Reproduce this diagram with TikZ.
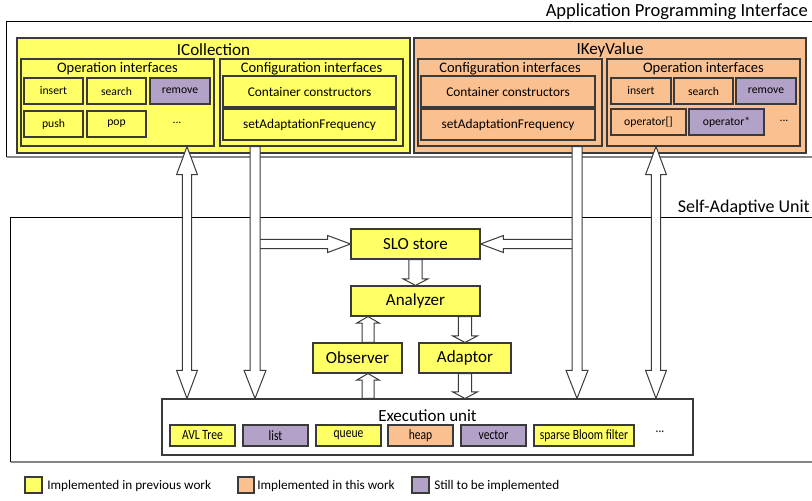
\documentclass[tikz,border=0pt]{standalone}
\usepackage{fontspec}
\setmainfont{Carlito}
\newfontfamily\narrowfont[FakeStretch=0.82]{Carlito}
\usetikzlibrary{calc}

\definecolor{prevyellow}{HTML}{FFFF66}
\definecolor{thisorange}{HTML}{FAC090}
\definecolor{todopurple}{HTML}{B3A2C7}
\definecolor{edgegray}{HTML}{3A3A3A}
\definecolor{shadowgray}{HTML}{858585}

\newcommand\fs[1]{\fontsize{#1}{#1}\selectfont}

% rectangle node given by its corners: [style]{name}{x1}{y1}{x2}{y2}{text}
\newcommand\rectnode[7][]{%
  \node[#1, minimum width={(#5-#3)*0.75pt}, minimum height={(#6-#4)*0.75pt}]
    (#2) at ({(#3+#5)/2},{(#4+#6)/2}) {#7};}

% hollow block arrow from #4 to #5 (tip at #5):
% #1 half shaft width, #2 half head width, #3 head length
\newcommand\sglarrow[5]{%
  \coordinate (sa-b) at ($(#5)!#3!(#4)$);
  \draw[hollow] ($(#4)!#1!90:(#5)$) -- ($(sa-b)!#1!90:(#5)$) -- ($(sa-b)!#2!90:(#5)$)
    -- (#5) -- ($(sa-b)!#2!-90:(#5)$) -- ($(sa-b)!#1!-90:(#5)$) -- ($(#4)!#1!-90:(#5)$) -- cycle;}
% hollow block arrow with heads at both ends
\newcommand\dblarrow[5]{%
  \coordinate (da-a) at ($(#4)!#3!(#5)$);
  \coordinate (da-b) at ($(#5)!#3!(#4)$);
  \draw[hollow] (#4) -- ($(da-a)!#2!90:(#5)$) -- ($(da-a)!#1!90:(#5)$) -- ($(da-b)!#1!90:(#5)$)
    -- ($(da-b)!#2!90:(#5)$) -- (#5) -- ($(da-b)!#2!-90:(#5)$) -- ($(da-b)!#1!-90:(#5)$)
    -- ($(da-a)!#1!-90:(#5)$) -- ($(da-a)!#2!-90:(#5)$) -- cycle;}

\tikzset{
  box/.style={draw=edgegray, line width=0.8pt, inner sep=0pt, rectangle},
  implprev/.style={box, fill=prevyellow},
  implthis/.style={box, fill=thisorange},
  impltodo/.style={box, fill=todopurple},
  frame/.style={inner sep=0pt, rectangle},
  frameline/.style={draw=black, line width=0.8pt},
  frameshadow/.style={draw=shadowgray, line width=1.4pt},
  hollow/.style={draw=edgegray, fill=white, line width=0.75pt, line join=miter},
  plain/.style={inner sep=0pt},
  optext/.style={font=\fs{8.75}},
  cfgtext/.style={font=\fs{10}},
  heading/.style={plain, font=\fs{10.9}},
  bigtitle/.style={plain, font=\fs{12.75}},
  unit/.style={font=\fs{12.75}},
  itemtext/.style={font=\narrowfont\fs{10.6}},
  legendtext/.style={plain, anchor=west, font=\fs{9.9}},
}

\begin{document}
\begin{tikzpicture}[x=0.75pt, y=-0.75pt]
\useasboundingbox (0,0) rectangle (812,500);
\clip (0,0) rectangle (812,500);

% ---------------- Application Programming Interface ----------------
\rectnode[frame]{api}{7}{22}{840}{157}{}
\draw[frameshadow] (api.south west) -- (api.south east);
\draw[frameline] (api.south west) -- (api.north west) -- (api.north east);
\node[plain, anchor=east, font=\fs{13.9}] (apititle) at (808,12) {Application Programming Interface};

% ICollection
\rectnode[implprev]{icoll}{17}{38}{410}{153}{}
\node[bigtitle] (icolltitle) at ($(icoll.north)+(0,12)$) {ICollection};

\rectnode[implprev]{opL}{21}{59}{214}{146}{}
\node[heading] (opLtitle) at ($(opL.north)+(0,10)$) {Operation interfaces};
\rectnode[implprev, optext]{insL}{24}{78}{83}{104}{insert}
\rectnode[implprev, optext]{seaL}{87}{78}{146}{104}{search}
\rectnode[impltodo, optext]{remL}{150}{78}{210}{104}{remove}
\rectnode[implprev, optext]{pushL}{24}{111}{83}{137}{push}
\rectnode[implprev, optext]{popL}{87}{111}{146}{137}{pop}
\node[plain, optext] (dotsL) at (177,123) {...};

\rectnode[implprev]{cfgL}{220}{59}{403}{146}{}
\node[heading] (cfgLtitle) at ($(cfgL.north)+(0,10)$) {Configuration interfaces};
\rectnode[implprev, cfgtext]{ccL}{223}{76}{396}{107}{Container constructors}
\rectnode[implprev, cfgtext]{safL}{223}{109}{396}{140}{setAdaptationFrequency}

% IKeyValue
\rectnode[implthis]{ikv}{414}{38}{806}{153}{}
\node[bigtitle] (ikvtitle) at ($(ikv.north)+(0,12)$) {IKeyValue};

\rectnode[implthis]{cfgR}{418}{59}{602}{146}{}
\node[heading] (cfgRtitle) at ($(cfgR.north)+(0,10)$) {Configuration interfaces};
\rectnode[implthis, cfgtext]{ccR}{421}{76}{595}{107}{Container constructors}
\rectnode[implthis, cfgtext]{safR}{421}{109}{595}{140}{setAdaptationFrequency}

\rectnode[implthis]{opR}{607}{59}{800}{146}{}
\node[heading] (opRtitle) at ($(opR.north)+(0,10)$) {Operation interfaces};
\rectnode[implthis, optext]{insR}{611}{78}{671}{104}{insert}
\rectnode[implthis, optext]{seaR}{674}{78}{733}{104}{search}
\rectnode[impltodo, optext]{remR}{736}{78}{796}{104}{remove}
\rectnode[implthis, optext]{oprR}{611}{109}{686}{135}{operator[]}
\rectnode[impltodo, optext]{opsR}{689}{109}{764}{135}{operator*}
\node[plain, optext] (dotsR) at (784,121) {...};

% ---------------- Self-Adaptive Unit ----------------
\rectnode[frame]{sau}{11}{218}{840}{462}{}
\draw[frameshadow] (sau.south west) -- (sau.south east);
\draw[frameline] (sau.south west) -- (sau.north west) -- (sau.north east);
\node[plain, anchor=east, font=\fs{13.5}] (sautitle) at (810,208) {Self-Adaptive Unit};

\rectnode[implprev, unit]{slo}{351}{229}{480}{259}{SLO store}
\rectnode[implprev, unit]{ana}{351}{286}{480}{316}{Analyzer}
\rectnode[implprev, unit]{obs}{313}{343}{402}{373}{Observer}
\rectnode[implprev, unit]{adp}{419}{343}{511}{373}{Adaptor}

\rectnode[box, fill=white]{exec}{162}{399}{693}{455}{}
\node[plain, unit] (exectitle) at ($(exec.north)+(0,17)$) {Execution unit};
\rectnode[implprev, itemtext]{avl}{170}{425}{235}{446}{AVL Tree}
\rectnode[impltodo, itemtext]{list}{243}{425}{308}{446}{list}
\rectnode[implprev, itemtext]{queue}{316}{425}{381}{446}{queue}
\rectnode[implthis, itemtext]{heap}{388}{425}{453}{446}{heap}
\rectnode[impltodo, itemtext]{vector}{461}{425}{526}{446}{vector}
\rectnode[implprev, itemtext]{bloom}{534}{425}{634}{446}{sparse Bloom filter}
\node[plain, itemtext] (dotsE) at (660,432) {...};

% ---------------- connectors ----------------
\coordinate (a1top) at (opL.south -| 187,0);
\coordinate (a1bot) at (exec.north -| 187,0);
\coordinate (a2top) at (cfgL.south -| 255,0);
\coordinate (a2bot) at (exec.north -| 255,0);
\coordinate (a3top) at (cfgR.south -| 577,0);
\coordinate (a3bot) at (exec.north -| 577,0);
\coordinate (a4top) at (opR.south -| 656,0);
\coordinate (a4bot) at (exec.north -| 656,0);
\coordinate (hL) at (slo.west -| 259,0);
\coordinate (hR) at (slo.east -| 573,0);
\coordinate (oaLow) at (obs.north -| 368,0);
\coordinate (oaHigh) at (ana.south -| 368,0);
\coordinate (eoLow) at (exec.north -| 368,0);
\coordinate (eoHigh) at (obs.south -| 368,0);
\coordinate (aaTop) at (ana.south -| adp.north);
\coordinate (aeBot) at (exec.north -| adp.south);

% feeds into the SLO store
\sglarrow{3.4pt}{6.4pt}{17.2pt}{hL}{slo.west}
\sglarrow{3.4pt}{6.4pt}{17.2pt}{hR}{slo.east}

% links between the API and the execution unit
\dblarrow{3.4pt}{7.8pt}{21pt}{a1top}{a1bot}
\sglarrow{3.75pt}{8.2pt}{21pt}{a2top}{a2bot}
\sglarrow{3.75pt}{8.2pt}{21pt}{a3top}{a3bot}
\dblarrow{3.4pt}{7.8pt}{21pt}{a4top}{a4bot}

% control loop
\sglarrow{4.9pt}{9.4pt}{5pt}{slo.south}{ana.north}
\sglarrow{4.9pt}{9.4pt}{5pt}{aaTop}{adp.north}
\sglarrow{4.5pt}{8.6pt}{5pt}{oaLow}{oaHigh}
\sglarrow{4.5pt}{8.6pt}{5pt}{eoLow}{eoHigh}
\sglarrow{4.9pt}{9.4pt}{5pt}{adp.south}{aeBot}

% ---------------- legend ----------------
\rectnode[implprev]{keyprev}{25}{477}{42}{493}{}
\node[legendtext] (keyprevtext) at (47,486) {Implemented in previous work};
\rectnode[implthis]{keythis}{238}{477}{254}{493}{}
\node[legendtext] (keythistext) at (257,486) {Implemented in this work};
\rectnode[impltodo]{keytodo}{412}{477}{429}{493}{}
\node[legendtext] (keytodotext) at (434,486) {Still to be implemented};
\end{tikzpicture}
\end{document}
